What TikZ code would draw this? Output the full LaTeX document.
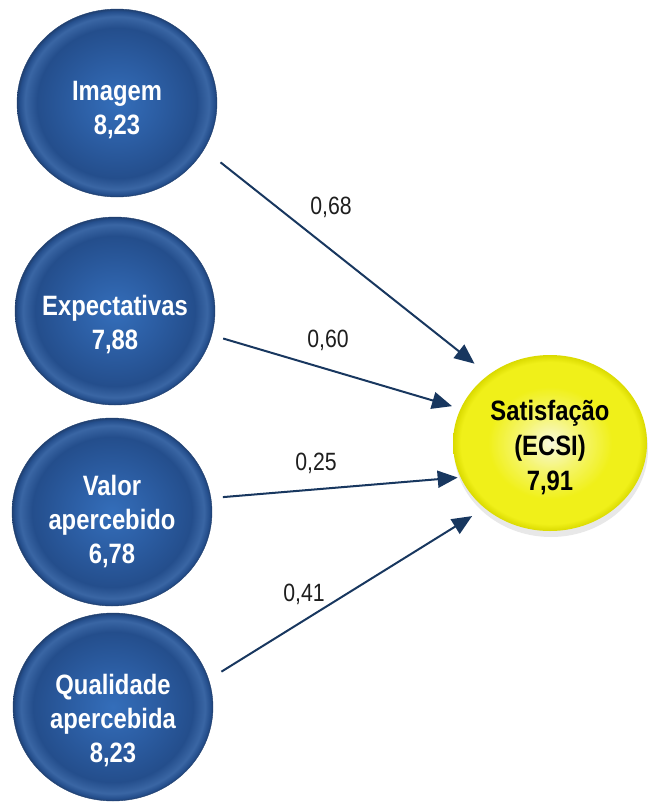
\documentclass[tikz,border=0pt]{standalone}
\usepackage{fontspec}
\setmainfont[FakeStretch=0.85]{Liberation Sans}
\usetikzlibrary{arrows.meta,shapes.geometric,shadows}

% colours of the model
\definecolor{navy}{RGB}{24,55,95}
\definecolor{coeftext}{RGB}{30,30,30}
\definecolor{bluecore}{RGB}{52,110,186}
\definecolor{bluemid}{RGB}{44,94,164}
\definecolor{blueout}{RGB}{36,78,140}
\definecolor{bluerim}{RGB}{58,102,164}
\definecolor{blueedge}{RGB}{32,64,112}
\definecolor{yelcore}{RGB}{248,248,220}
\definecolor{yelmid}{RGB}{245,245,110}
\definecolor{yelout}{RGB}{240,240,25}
\definecolor{yeledge}{RGB}{218,218,0}

% shadings of the discs
\pgfdeclareradialshading{bluedisc}{\pgfpoint{0bp}{0bp}}{%
  color(0bp)=(bluecore); color(10bp)=(bluemid); color(20bp)=(blueout);
  color(23bp)=(bluerim); color(24.4bp)=(blueout); color(25bp)=(blueedge);
  color(50bp)=(blueedge)}
\pgfdeclareradialshading{yellowdisc}{\pgfpoint{0bp}{0bp}}{%
  color(0bp)=(yelcore); color(8bp)=(yelmid); color(16bp)=(yelout);
  color(23bp)=(yelout); color(25bp)=(yeledge); color(50bp)=(yeledge)}

\begin{document}
\begin{tikzpicture}[x=1pt, y=1pt,
  factor/.style={ellipse, minimum width=200pt, minimum height=188pt,
    inner sep=0pt, outer sep=0pt, shading=bluedisc, draw=blueedge,
    line width=0.4pt},
  factortext/.style={text=white, align=center,
    font=\fontsize{28}{34}\selectfont\bfseries},
  target/.style={ellipse, minimum width=194pt, minimum height=176pt,
    inner sep=0pt, outer sep=0pt, shading=yellowdisc,
    drop shadow={shadow xshift=1pt, shadow yshift=-6pt, opacity=0.18}},
  targettext/.style={text=black, align=center,
    font=\fontsize{28}{35}\selectfont\bfseries},
  link/.style={navy, line width=2pt, -{Triangle[length=20pt, width=17pt]}},
  coef/.style={text=coeftext, font=\fontsize{25}{30}\selectfont}]

\useasboundingbox (0,0) rectangle (650,-804);

% Latent variables on the left
\node[factor, label={[name=img-t, factortext, yshift=-7pt]center:Imagem\\8,23}]
  (img) at (117,-103) {};
\node[factor, label={[name=exp-t, factortext, yshift=-14pt]center:Expectativas\\7,88}]
  (exp) at (115,-311) {};
\node[factor, label={[name=val-t, factortext, yshift=-10pt]center:Valor\\apercebido\\6,78}]
  (val) at (112,-512) {};
\node[factor, label={[name=qual-t, factortext, yshift=-14pt]center:Qualidade\\apercebida\\8,23}]
  (qual) at (113,-707) {};

% Satisfaction index
\node[target, label={[name=sat-t, targettext, yshift=-5pt]center:Satisfação\\(ECSI)\\7,91}]
  (sat) at (550,-443) {};

% Paths towards satisfaction
\draw[link, shorten <=21pt, shorten >=18pt] (img.-28) -- (sat.132);
\draw[link, shorten <=12pt, shorten >=9pt]  (exp.-14) -- (sat.159);
\draw[link, shorten <=12pt, shorten >=3pt]  (val.8)   -- (sat.201);
\draw[link, shorten <=15pt, shorten >=15pt] (qual.16) -- (sat.225);

% Path coefficients
\node[coef] (c-img)  at (331,-207) {0,68};
\node[coef] (c-exp)  at (328,-340) {0,60};
\node[coef] (c-val)  at (316,-463) {0,25};
\node[coef] (c-qual) at (304,-594) {0,41};

\end{tikzpicture}
\end{document}
